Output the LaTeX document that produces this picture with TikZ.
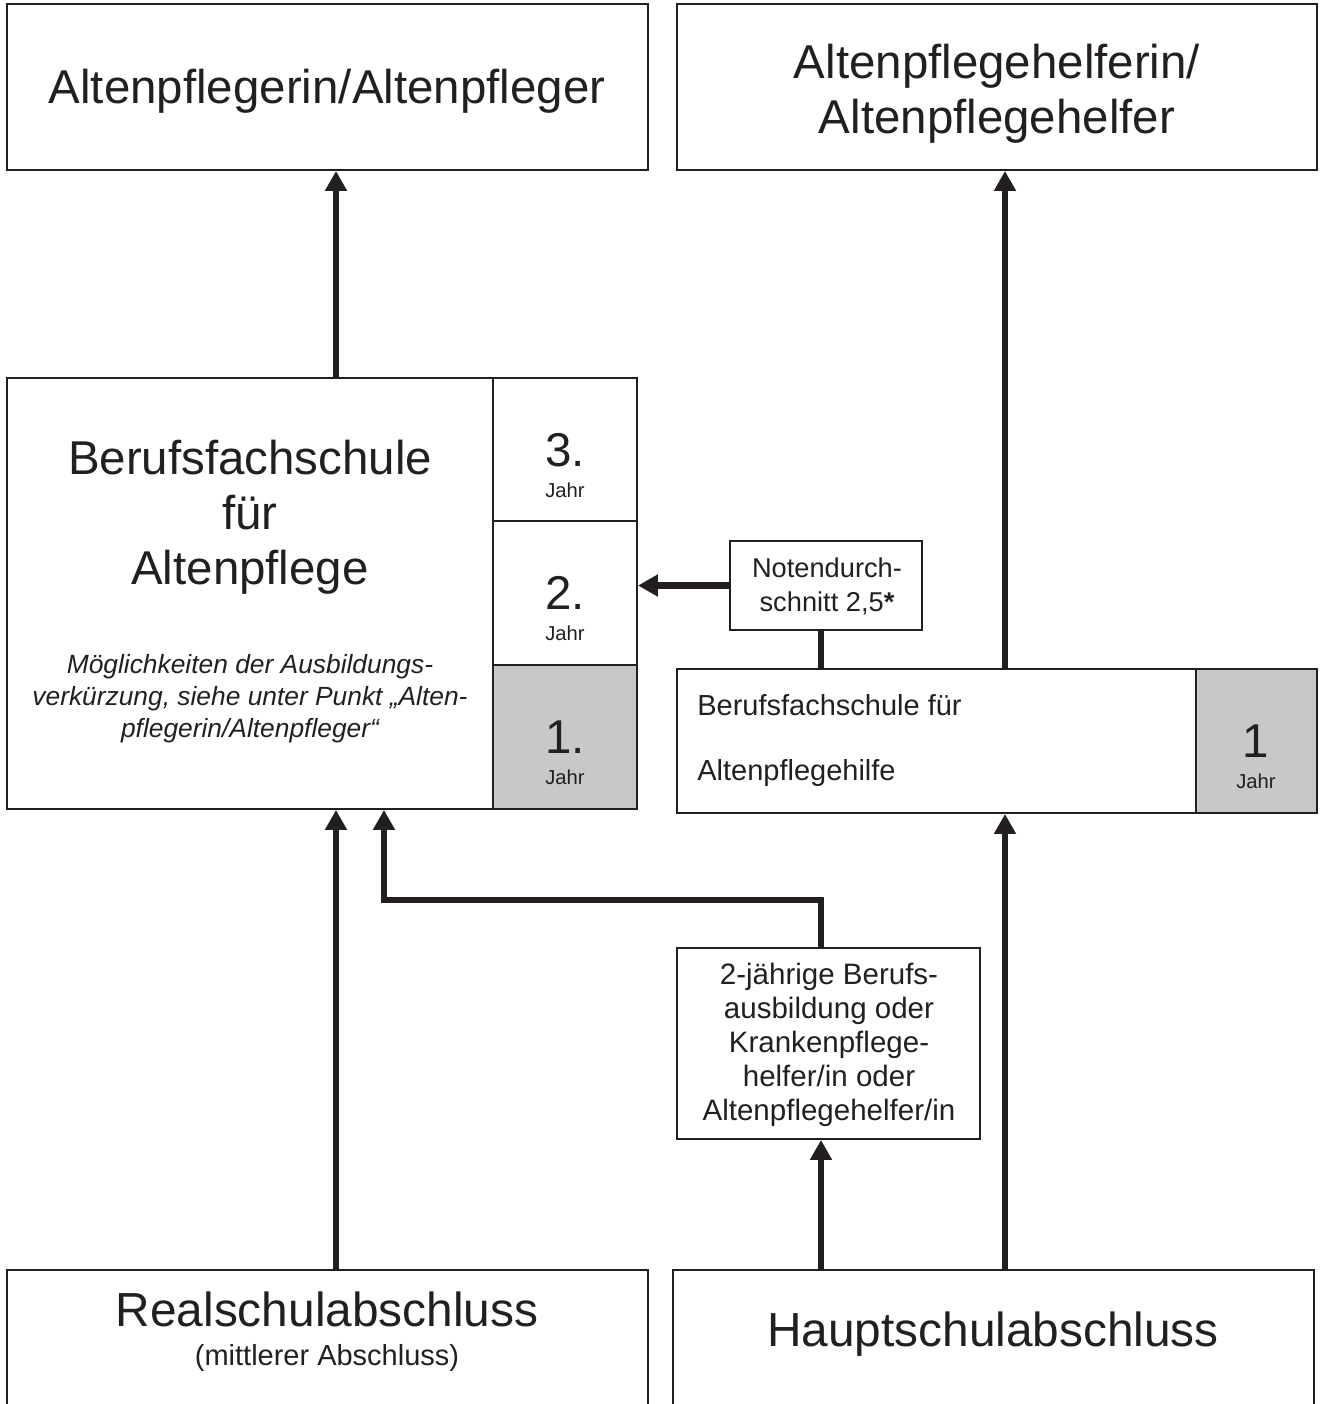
\documentclass[tikz,border=0pt]{standalone}
\usepackage{fontspec}
\setmainfont{Liberation Sans}
\usetikzlibrary{arrows.meta,fit}
\definecolor{ink}{RGB}{35,31,32}
\definecolor{yeargray}{RGB}{200,200,200}
\tikzset{
  box/.style={draw=ink, line width=1.1pt, inner sep=0pt},
  arr/.style={draw=ink, line width=3.6pt, -{Triangle[length=4mm,width=4.2mm]}},
  link/.style={draw=ink, line width=3.6pt},
  bigtext/.style={text=ink, font=\fontsize{27}{31.3}\selectfont, align=center, inner sep=0pt},
  midtext/.style={text=ink, font=\fontsize{16.5}{19.4}\selectfont, align=center, inner sep=0pt},
  smalltext/.style={text=ink, font=\fontsize{15.5}{19.4}\selectfont, align=center, inner sep=0pt},
  jahrtext/.style={text=ink, font=\fontsize{11.5}{14}\selectfont, inner sep=0pt},
}
\begin{document}
\begin{tikzpicture}[x=0.2mm,y=-0.2mm]
\useasboundingbox (0,0) rectangle (1321,1404);

%%%%% TOP %%%%%
\node[box, fit={(7,4) (648,170)}] (pfleger) {};
\node[bigtext, anchor=base] (pflegertxt) at (327,103) {Altenpflegerin/Altenpfleger};
\node[box, fit={(677,4) (1317,170)}] (helfer) {};
\node[bigtext] (helfertxt) at (997,94) {Altenpflegehelferin/\\Altenpflegehelfer};

%%%%% BERUFSFACHSCHULE %%%%%
\node[box, fit={(7,378) (493,809)}] (bfs) {};
\node[bigtext] (bfstxt) at (250,517) {Berufsfachschule\\für\\Altenpflege};
\node[smalltext, font=\fontsize{15}{18.2}\selectfont\itshape] (verkuerzung) at (250,699)
  {Möglichkeiten der Ausbildungs-\\verkürzung, siehe unter Punkt „Alten-\\pflegerin/Altenpfleger“};
\foreach \n/\t/\f in {3/378/white, 2/521/white, 1/665/yeargray}{
  \node[box, fill=\f, fit={(493,\t) (637,\t+144)}] (jahr\n) {};
  \node[bigtext] (jahrnum\n) at (565,\t+72) {\n.};
  \node[jahrtext] (jahrlbl\n) at (565,\t+112) {Jahr};
}

%%%%% ALTENPFLEGEHILFE %%%%%
\node[box, fit={(730,541) (922,630)}] (note) {};
\node[smalltext] (notetxt) at (827,586) {Notendurch-\\schnitt 2,5\textbf{*}};
\node[box, fit={(677,669) (1196,813)}] (hilfe) {};
\node[midtext, anchor=base west] (hilfetxt1) at (697,715) {Berufsfachschule für};
\node[midtext, anchor=base west] (hilfetxt2) at (697,780) {Altenpflegehilfe};
\node[box, fill=yeargray, fit={(1196,669) (1317,813)}] (hilfejahr) {};
\node[bigtext] (hilfenum) at (1256,741) {1};
\node[jahrtext] (hilfelbl) at (1256,781) {Jahr};

\node[box, fit={(677,948) (980,1139)}] (zwei) {};
\node[smalltext, font=\fontsize{16.8}{19.4}\selectfont] (zweitxt) at (829,1045)
  {2-jährige Berufs-\\ausbildung oder\\Krankenpflege-\\helfer/in oder\\Altenpflegehelfer/in};

%%%%% ABSCHLUESSE %%%%%
\node[box, fit={(7,1270) (648,1414)}] (real) {};
\node[bigtext, font=\fontsize{27.2}{30}\selectfont, anchor=base] (realtxt) at (327,1326) {Realschulabschluss};
\node[midtext, anchor=base] (realsub) at (327,1365) {(mittlerer Abschluss)};
\node[box, fit={(673,1270) (1314,1414)}] (haupt) {};
\node[bigtext, font=\fontsize{27.2}{30}\selectfont, anchor=base] (haupttxt) at (993,1346) {Hauptschulabschluss};

%%%%% ARROWS %%%%%
\coordinate (colA) at (336,0);
\coordinate (colK) at (384,0);
\coordinate (colZ) at (821,0);
\coordinate (colH) at (1005,0);
\coordinate (knee) at (0,900);
\draw[arr] (bfs.north -| colA) -- (pfleger.south -| colA);
\draw[arr] (real.north -| colA) -- (bfs.south -| colA);
\draw[arr] (hilfe.north -| colH) -- (helfer.south -| colH);
\draw[arr] (haupt.north -| colH) -- (hilfe.south -| colH);
\draw[arr] (haupt.north -| colZ) -- (zwei.south -| colZ);
\draw[arr] (zwei.north -| colZ) -- (colZ |- knee) -- (colK |- knee) -- (bfs.south -| colK);
\draw[arr] (note.west) -- (note.west -| jahr2.east);
\draw[link] (note.south -| colZ) -- (hilfe.north -| colZ);
\end{tikzpicture}
\end{document}
